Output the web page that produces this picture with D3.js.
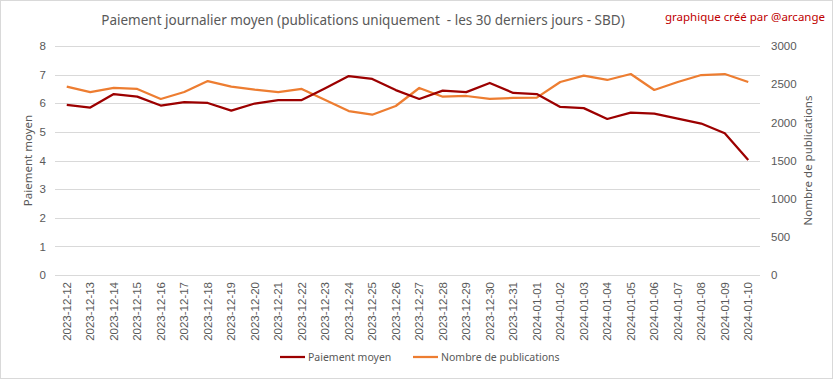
<!DOCTYPE html>
<html>
<head>
<meta charset="utf-8" />
<script src="https://cdn.jsdelivr.net/npm/d3@7"></script>
<style>
	body { margin: 0; background: #fff; }
	svg { display: block; font-family: "Noto Sans", sans-serif; }
</style>
</head>
<body>
<div id="chart"></div>
<script>

// dates (x axis)
var dates = ["2023-12-12","2023-12-13","2023-12-14","2023-12-15","2023-12-16","2023-12-17","2023-12-18",
	"2023-12-19","2023-12-20","2023-12-21","2023-12-22","2023-12-23","2023-12-24","2023-12-25","2023-12-26",
	"2023-12-27","2023-12-28","2023-12-29","2023-12-30","2023-12-31","2024-01-01","2024-01-02","2024-01-03",
	"2024-01-04","2024-01-05","2024-01-06","2024-01-07","2024-01-08","2024-01-09","2024-01-10"];

// paiement moyen (left axis, SBD)
var paiement = [5.94, 5.85, 6.32, 6.23, 5.92, 6.04, 6.01, 5.74, 5.99, 6.11, 6.11, 6.52, 6.95, 6.85, 6.46,
	6.15, 6.44, 6.39, 6.71, 6.36, 6.32, 5.87, 5.83, 5.45, 5.67, 5.64, 5.46, 5.29, 4.95, 4.02];

// nombre de publications (right axis)
var publications = [2467, 2397, 2450, 2437, 2306, 2397, 2541, 2467, 2428, 2397, 2437, 2293, 2148, 2100, 2214,
	2450, 2336, 2345, 2306, 2319, 2323, 2528, 2611, 2555, 2633, 2424, 2528, 2620, 2633, 2528];

var leftTicks = [0, 1, 2, 3, 4, 5, 6, 7, 8];
var rightTicks = [0, 500, 1000, 1500, 2000, 2500, 3000];

var W = 833, H = 379;
var plot = { left: 55, right: 760, top: 46, bottom: 275 };
var grey = "#595959";
var colPay = "#9c0000", colPub = "#ed7d31";

var svg = d3.select("#chart").append("svg")
	.attr("width", W)
	.attr("height", H);

// outer frame
svg.append("rect")
	.attr("x", 0.5).attr("y", 0.5)
	.attr("width", W - 1).attr("height", H - 1)
	.style("fill", "#fff").style("stroke", "#d9d9d9");

var x = d3.scaleBand().domain(dates).range([plot.left, plot.right]);
var yL = d3.scaleLinear().domain([0, 8]).range([plot.bottom, plot.top]);
var yR = d3.scaleLinear().domain([0, 3000]).range([plot.bottom, plot.top]);

// grid lines
svg.append("g").selectAll("line")
	.data(leftTicks).enter()
	.append("line")
	.attr("x1", plot.left).attr("x2", plot.right)
	.attr("y1", function (d) { return Math.round(yL(d)) + 0.5; })
	.attr("y2", function (d) { return Math.round(yL(d)) + 0.5; })
	.style("stroke", "#d9d9d9");

// left axis
var axL = svg.append("g")
	.attr("transform", "translate(" + (plot.left - 9) + ",0)")
	.call(d3.axisLeft(yL).tickValues(leftTicks).tickSize(0).tickPadding(0));
axL.select(".domain").remove();
axL.selectAll("text").style("fill", grey).style("font-size", "11.5px");

// right axis
var axR = svg.append("g")
	.attr("transform", "translate(" + (plot.right + 11) + ",0)")
	.call(d3.axisRight(yR).tickValues(rightTicks).tickFormat(d3.format("d")).tickSize(0).tickPadding(0));
axR.select(".domain").remove();
axR.selectAll("text").style("fill", grey).style("font-size", "11.5px");

// x axis labels, rotated
var axX = svg.append("g")
	.attr("transform", "translate(0," + (plot.bottom + 7) + ")")
	.call(d3.axisBottom(x).tickSize(0).tickPadding(0));
axX.select(".domain").remove();
axX.selectAll("text")
	.attr("transform", "rotate(-90)")
	.attr("x", 0).attr("y", 0).attr("dy", "0.35em")
	.style("text-anchor", "end")
	.style("fill", grey).style("font-size", "11.5px");

// lines
function lineFor(scale) {
	return d3.line()
		.x(function (d, i) { return x(dates[i]) + x.bandwidth() / 2; })
		.y(function (d) { return scale(d); });
}

svg.append("path")
	.datum(publications)
	.attr("d", lineFor(yR))
	.style("fill", "none")
	.style("stroke", colPub)
	.style("stroke-width", 2.25)
	.style("stroke-linejoin", "round");

svg.append("path")
	.datum(paiement)
	.attr("d", lineFor(yL))
	.style("fill", "none")
	.style("stroke", colPay)
	.style("stroke-width", 2.25)
	.style("stroke-linejoin", "round");

// title
svg.append("text")
	.attr("x", 363).attr("y", 25)
	.style("text-anchor", "middle")
	.style("white-space", "pre")
	.style("fill", grey).style("font-size", "13.5px")
	.text("Paiement journalier moyen (publications uniquement  - les 30 derniers jours - SBD)");

svg.append("text")
	.attr("x", 825).attr("y", 21)
	.style("text-anchor", "end")
	.style("fill", "#c00000").style("font-size", "11.5px")
	.text("graphique créé par @arcange");

// axis titles
svg.append("text")
	.attr("transform", "translate(32," + ((plot.top + plot.bottom) / 2) + ") rotate(-90)")
	.style("text-anchor", "middle")
	.style("fill", grey).style("font-size", "11.5px")
	.text("Paiement moyen");

svg.append("text")
	.attr("transform", "translate(812," + ((plot.top + plot.bottom) / 2) + ") rotate(-90)")
	.style("text-anchor", "middle")
	.style("fill", grey).style("font-size", "11.5px")
	.text("Nombre de publications");

// legend
var legend = [
	{ name: "Paiement moyen", color: colPay, x: 280 },
	{ name: "Nombre de publications", color: colPub, x: 413 }
];
var lg = svg.selectAll(".legend")
	.data(legend).enter()
	.append("g")
	.attr("transform", function (d) { return "translate(" + d.x + ",357)"; });
lg.append("line")
	.attr("x1", 0).attr("x2", 25)
	.style("stroke", function (d) { return d.color; })
	.style("stroke-width", 2.25);
lg.append("text")
	.attr("x", 28).attr("dy", "0.35em")
	.style("fill", grey).style("font-size", "10.5px")
	.text(function (d) { return d.name; });

</script>
</body>
</html>
